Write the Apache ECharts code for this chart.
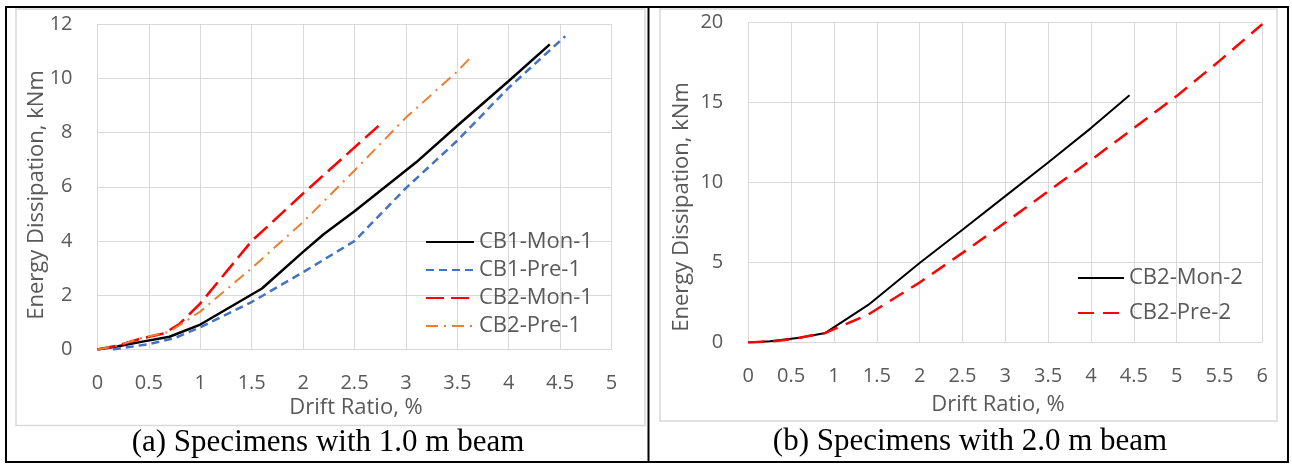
<!DOCTYPE html>
<html>
<head>
<meta charset="utf-8">
<title>Energy Dissipation vs Drift Ratio</title>
<script src="https://cdn.jsdelivr.net/npm/echarts@6/dist/echarts.min.js"></script>
<style>
  html, body { margin: 0; padding: 0; background: #fff; }
  #chart { width: 1292px; height: 464px; }
</style>
</head>
<body>
<div id="chart"></div>
<script>
// (a) specimens with 1.0 m beam: [drift ratio %, energy kNm]
const cb1Mon1 = [[0, 0], [0.2, 0.12], [0.45, 0.3], [0.7, 0.47], [1.0, 0.92], [1.6, 2.25], [2.0, 3.6], [2.2, 4.25], [2.5, 5.1], [3.1, 6.9], [3.5, 8.25], [4.0, 9.9], [4.4, 11.25]];
const cb1Pre1 = [[0.15, 0], [0.5, 0.2], [0.75, 0.42], [1.0, 0.82], [1.5, 1.75], [2.0, 2.85], [2.5, 4.0], [3.0, 5.95], [3.5, 7.7], [4.0, 9.65], [4.55, 11.55]];
const cb2Mon1 = [[0, 0], [0.2, 0.15], [0.4, 0.38], [0.65, 0.6], [0.8, 0.95], [1.0, 1.7], [1.5, 4.0], [2.0, 5.75], [2.5, 7.45], [2.75, 8.3]];
const cb2Pre1 = [[0, 0], [0.2, 0.15], [0.45, 0.45], [0.7, 0.65], [1.0, 1.4], [1.5, 3.0], [2.0, 4.7], [2.5, 6.6], [3.0, 8.55], [3.5, 10.25], [3.65, 10.85]];

// (b) specimens with 2.0 m beam
const cb2Mon2 = [[0, 0], [0.25, 0.08], [0.6, 0.3], [0.9, 0.6], [1.4, 2.35], [2.0, 4.97], [2.5, 7.05], [3.0, 9.15], [3.5, 11.25], [4.0, 13.4], [4.45, 15.45]];
const cb2Pre2 = [[0, 0], [0.25, 0.06], [0.5, 0.2], [0.9, 0.6], [1.4, 1.75], [2.0, 3.75], [2.5, 5.6], [3.0, 7.5], [3.5, 9.45], [4.0, 11.4], [4.5, 13.4], [5.0, 15.4], [5.5, 17.6], [6.0, 19.9]];

const legendA = ['CB1-Mon-1', 'CB1-Pre-1', 'CB2-Mon-1', 'CB2-Pre-1'];
const legendB = ['CB2-Mon-2', 'CB2-Pre-2'];
const captions = ['(a) Specimens with 1.0 m beam', '(b) Specimens with 2.0 m beam'];
const xTitle = 'Drift Ratio, %';
const yTitle = 'Energy Dissipation, kNm';

const GRAY = '#595959';
const GRID_LINE = '#d9d9d9';
const FONT = '"Open Sans", sans-serif';

const chart = echarts.init(document.getElementById('chart'));

// 坐标轴公共样式（Excel 风格）
function xAxisOf(idx, max) {
  return {
    type: 'value', gridIndex: idx, min: 0, max: max, interval: 0.5,
    axisLine: { show: true, lineStyle: { color: GRID_LINE, width: 1 } },
    axisTick: { show: false },
    axisLabel: { color: GRAY, fontFamily: FONT, fontSize: 20, margin: 24 },
    splitLine: { show: true, lineStyle: { color: GRID_LINE, width: 1 } }
  };
}
function yAxisOf(idx, max, step) {
  return {
    type: 'value', gridIndex: idx, min: 0, max: max, interval: step,
    axisLine: { show: false },
    axisTick: { show: false },
    axisLabel: { color: GRAY, fontFamily: FONT, fontSize: 20, margin: 25 },
    splitLine: { show: true, lineStyle: { color: GRID_LINE, width: 1 } }
  };
}
function lineOf(name, data, idx, color, width, dash) {
  return {
    name: name, type: 'line', data: data,
    xAxisIndex: idx, yAxisIndex: idx,
    symbol: 'none', smooth: false,
    lineStyle: { color: color, width: width, type: dash || 'solid' },
    itemStyle: { color: color }
  };
}
function legendOf(names, left, top, width, gap) {
  return {
    data: names, orient: 'vertical', left: left, top: top,
    itemWidth: width, itemHeight: 14, itemGap: gap, padding: 0,
    itemStyle: { opacity: 0 }, // 只显示线型，不显示圆点
    textStyle: { color: GRAY, fontFamily: FONT, fontSize: 22, lineHeight: 22 }
  };
}

const option = {
  animation: false,
  backgroundColor: '#fff',
  grid: [
    { left: 97.5, top: 24, width: 514, height: 325.5 },
    { left: 748.3, top: 22.5, width: 514, height: 320 }
  ],
  xAxis: [xAxisOf(0, 5), xAxisOf(1, 6)],
  yAxis: [yAxisOf(0, 12, 2), yAxisOf(1, 20, 5)],
  legend: [legendOf(legendA, 425, 231, 48, 6), legendOf(legendB, 1077, 267, 46, 13)],
  series: [
    lineOf(legendA[0], cb1Mon1, 0, '#000000', 2.5),
    lineOf(legendA[1], cb1Pre1, 0, '#4472C4', 2.5, [8, 5]),
    lineOf(legendA[2], cb2Mon1, 0, '#FF0000', 2.5, [18, 7]),
    lineOf(legendA[3], cb2Pre1, 0, '#ED7D31', 2, [12, 6, 2, 6]),
    lineOf(legendB[0], cb2Mon2, 1, '#000000', 2),
    lineOf(legendB[1], cb2Pre2, 1, '#FF0000', 2.5, [16, 9])
  ],
  graphic: [
    // 图表区域浅灰边框
    { type: 'rect', shape: { x: 16, y: 9, width: 629, height: 416.5 }, style: { fill: 'none', stroke: GRID_LINE, lineWidth: 1.5 }, z: -1 },
    { type: 'rect', shape: { x: 660, y: 9, width: 617, height: 412 }, style: { fill: 'none', stroke: GRID_LINE, lineWidth: 1.5 }, z: -1 },
    // 外框与分隔线
    { type: 'rect', shape: { x: 6, y: 7, width: 1282, height: 455 }, style: { fill: 'none', stroke: '#000', lineWidth: 2 } },
    { type: 'line', shape: { x1: 648.5, y1: 7, x2: 648.5, y2: 462 }, style: { stroke: '#000', lineWidth: 2 } },
    // 坐标轴标题
    { type: 'text', x: 37, y: 195, rotation: Math.PI / 2, style: { text: yTitle, fill: GRAY, font: '22px ' + FONT, align: 'center', verticalAlign: 'middle' } },
    { type: 'text', x: 682, y: 207, rotation: Math.PI / 2, style: { text: yTitle, fill: GRAY, font: '22px ' + FONT, align: 'center', verticalAlign: 'middle' } },
    { type: 'text', x: 356, y: 408, style: { text: xTitle, fill: GRAY, font: '22px ' + FONT, align: 'center', verticalAlign: 'middle' } },
    { type: 'text', x: 998, y: 405, style: { text: xTitle, fill: GRAY, font: '22px ' + FONT, align: 'center', verticalAlign: 'middle' } },
    // 图注
    { type: 'text', x: 328, y: 443, style: { text: captions[0], fill: '#000', font: '31px "Liberation Serif", serif', align: 'center', verticalAlign: 'middle' } },
    { type: 'text', x: 970, y: 442, style: { text: captions[1], fill: '#000', font: '31px "Liberation Serif", serif', align: 'center', verticalAlign: 'middle' } }
  ]
};

chart.setOption(option);
</script>
</body>
</html>
